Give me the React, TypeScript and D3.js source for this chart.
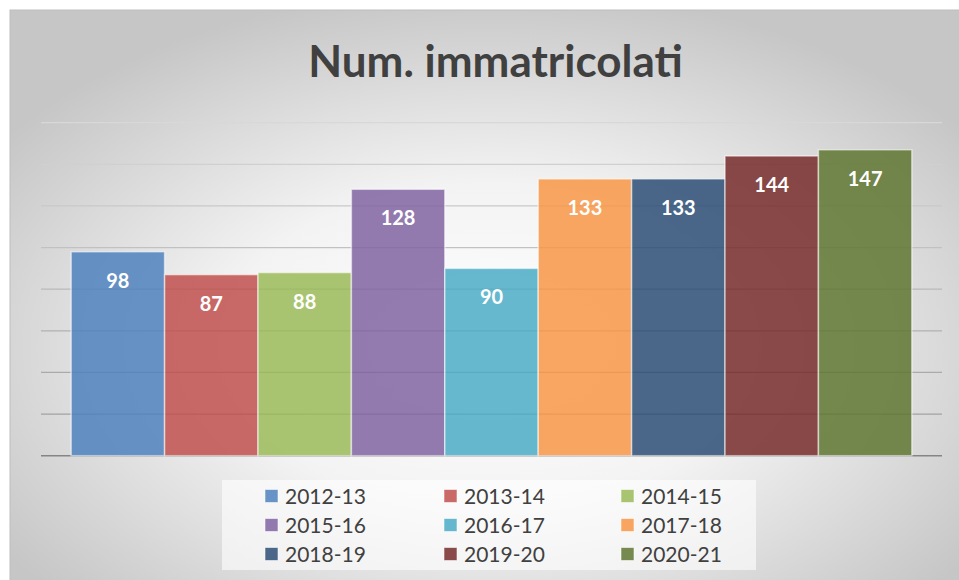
import React from "react";
import * as d3 from "d3";

const categories = ["2012-13", "2013-14", "2014-15", "2015-16", "2016-17", "2017-18", "2018-19", "2019-20", "2020-21"];
const values = [98, 87, 88, 128, 90, 133, 133, 144, 147];
const colors = ["#4F81BD", "#C0504D", "#9BBB59", "#8064A2", "#4BACC6", "#F79646", "#2C4D75", "#772C2A", "#5F7530"];
const yTicks = [0, 20, 40, 60, 80, 100, 120, 140, 160];
const title = "Num. immatricolati";

const W = 959;
const H = 580;
const plot = { left: 41, right: 942, top: 122.7, bottom: 455.7 };

export default function App() {
  const x = d3.scaleBand<string>().domain(categories).range([plot.left, plot.right]).paddingInner(0).paddingOuter(0.323);
  const y = d3.scaleLinear().domain([0, 160]).range([plot.bottom, plot.top]);
  const gridColor = d3.scaleLinear<string>().domain([0, 160]).range(["#9a9a9a", "#d8d8d8"]);
  const font = "Lato, 'Open Sans', sans-serif";

  const legendCols = [265, 444, 621];
  const legendRows = [496, 525, 554];

  return (
    <svg width={W} height={H} style={{ position: "absolute", left: 0, top: 0 }}>
      <defs>
        <radialGradient id="bg" cx="50%" cy="58%" r="62%">
          <stop offset="0" stopColor="#ffffff" />
          <stop offset="0.45" stopColor="#f3f3f3" />
          <stop offset="1" stopColor="#c6c6c6" />
        </radialGradient>
      </defs>
      <rect x={0} y={0} width={W} height={H} fill="#ffffff" />
      <rect x={10} y={10} width={W} height={H} fill="url(#bg)" stroke="#bdbdbd" strokeWidth={1} />
      <text x={495.5} y={77} textAnchor="middle" fontFamily={font} fontWeight={700} fontSize={44} fill="#404040">
        {title}
      </text>
      {yTicks.slice(1).map((t) => (
        <line key={t} x1={plot.left} x2={plot.right} y1={y(t)} y2={y(t)} stroke={gridColor(t)} strokeWidth={1.2} />
      ))}
      <line x1={plot.left} x2={plot.right} y1={y(0)} y2={y(0)} stroke="#858585" strokeWidth={1.5} />
      {categories.map((c, i) => (
        <g key={c}>
          <rect
            x={x(c)!}
            y={y(values[i])}
            width={x.bandwidth()}
            height={y(0) - y(values[i])}
            fill={colors[i]}
            fillOpacity={0.85}
            stroke="#ffffff"
            strokeOpacity={0.55}
            strokeWidth={1.5}
          />
          <text
            x={x(c)! + x.bandwidth() / 2}
            y={y(values[i]) + 36}
            textAnchor="middle"
            fontFamily={font}
            fontWeight={700}
            fontSize={20}
            fill="#ffffff"
          >
            {values[i]}
          </text>
        </g>
      ))}
      <rect x={222} y={480} width={534} height={90} fill="#ffffff" fillOpacity={0.6} />
      {categories.map((c, i) => {
        const cx = legendCols[i % 3];
        const cy = legendRows[Math.floor(i / 3)];
        return (
          <g key={"lg" + c}>
            <rect x={cx} y={cy - 6.5} width={13} height={13} fill={colors[i]} fillOpacity={0.85} stroke="#ffffff" strokeOpacity={0.55} strokeWidth={1} />
            <text x={cx + 20} y={cy + 7.5} fontFamily={font} fontSize={21} fill="#404040">
              {c}
            </text>
          </g>
        );
      })}
    </svg>
  );
}
